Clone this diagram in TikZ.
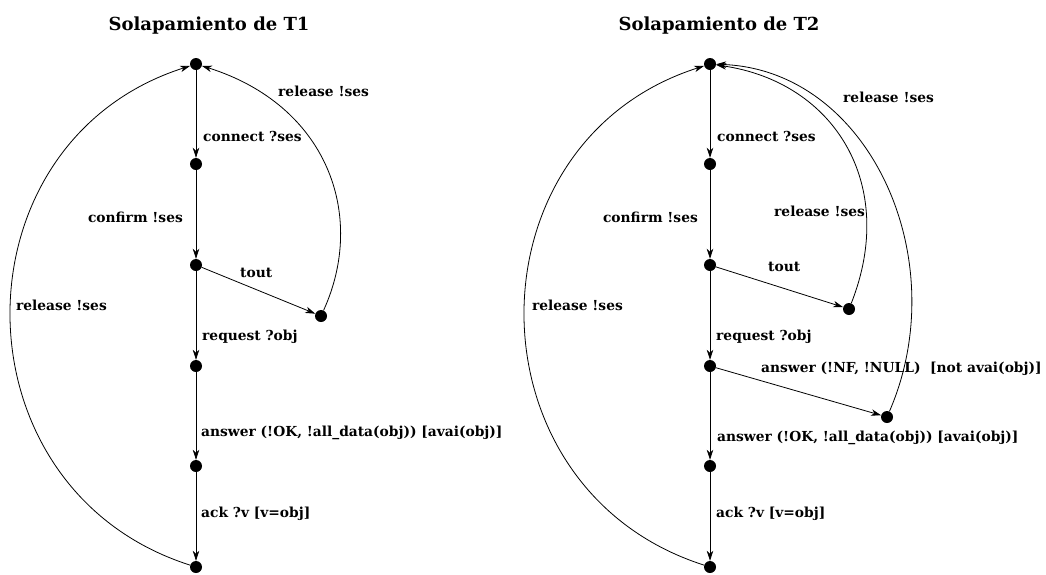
\documentclass[tikz,border=0pt]{standalone}
\usepackage{fontspec}
\setmainfont{DejaVu Serif}
\usetikzlibrary{arrows.meta}
\begin{document}
\begin{tikzpicture}[x=1pt,y=-1pt,
  state/.style={circle,fill=black,inner sep=0pt,minimum size=12pt},
  trans/.style={line width=0.8pt,-{Stealth[length=10pt,width=6.5pt,inset=3pt]}},
  lbl/.style={font=\bfseries\fontsize{13.8}{16}\selectfont,inner sep=0pt},
  ttl/.style={font=\bfseries\fontsize{18}{21}\selectfont,inner sep=0pt}]
\useasboundingbox (0,0) rectangle (1046,574);

% ---------------- T1 ----------------
\node[ttl] (t1) at (209,26) {Solapamiento de T1};
\node[state] (a0) at (196,64) {};
\node[state] (a1) at (196,164) {};
\node[state] (a2) at (196,265) {};
\node[state] (a3) at (196,366) {};
\node[state] (a4) at (196,466) {};
\node[state] (a5) at (196,567) {};
\node[state] (as) at (321,316) {};

\draw[trans] (a0) -- (a1);
\draw[trans] (a1) -- (a2);
\draw[trans] (a2) -- (a3);
\draw[trans] (a3) -- (a4);
\draw[trans] (a4) -- (a5);
\draw[trans] (a2) -- (as);
\draw[trans] (as) .. controls (367,215) and (327,105) .. (a0);
\draw[trans] (a5) .. controls (-49,489) and (-49,142) .. (a0);

\node[lbl,anchor=west] (l1) at (203,136) {connect ?ses};
\node[lbl,anchor=east] (l2) at (183,217) {confirm !ses};
\node[lbl,anchor=west] (l3) at (240,273) {tout};
\node[lbl,anchor=west] (l4) at (202,337) {request ?obj};
\node[lbl,anchor=west] (l5) at (201,433) {answer (!OK, !all\_data(obj)) [avai(obj)]};
\node[lbl,anchor=west] (l6) at (201,514) {ack ?v [v=obj]};
\node[lbl,anchor=west] (l7) at (278,91) {release !ses};
\node[lbl,anchor=east] (l8) at (107,305) {release !ses};

% ---------------- T2 ----------------
\node[ttl] (t2) at (719,26) {Solapamiento de T2};
\node[state] (b0) at (710,64) {};
\node[state] (b1) at (710,164) {};
\node[state] (b2) at (710,265) {};
\node[state] (b3) at (710,366) {};
\node[state] (b4) at (710,466) {};
\node[state] (b5) at (710,567) {};
\node[state] (bu) at (849,309) {};
\node[state] (bn) at (887,417) {};

\draw[trans] (b0) -- (b1);
\draw[trans] (b1) -- (b2);
\draw[trans] (b2) -- (b3);
\draw[trans] (b3) -- (b4);
\draw[trans] (b4) -- (b5);
\draw[trans] (b2) -- (bu);
\draw[trans] (b3) -- (bn);
\draw[trans] (bu) .. controls (898,185) and (835,82) .. (b0);
\draw[trans] (bn) .. controls (955,260) and (870,70) .. (b0);
\draw[trans] (b5) .. controls (465,489) and (465,142) .. (b0);

\node[lbl,anchor=west] (m1) at (717,136) {connect ?ses};
\node[lbl,anchor=east] (m2) at (698,217) {confirm !ses};
\node[lbl,anchor=west] (m3) at (768,267) {tout};
\node[lbl,anchor=west] (m4) at (716,337) {request ?obj};
\node[lbl,anchor=west] (m5) at (761,369) {answer (!NF, !NULL)\ \ [not avai(obj)]};
\node[lbl,anchor=west] (m6) at (717,438) {answer (!OK, !all\_data(obj)) [avai(obj)]};
\node[lbl,anchor=west] (m7) at (716,514) {ack ?v [v=obj]};
\node[lbl,anchor=west] (m8) at (774,211) {release !ses};
\node[lbl,anchor=west] (m9) at (843,97) {release !ses};
\node[lbl,anchor=east] (m10) at (623,305) {release !ses};
\end{tikzpicture}
\end{document}
